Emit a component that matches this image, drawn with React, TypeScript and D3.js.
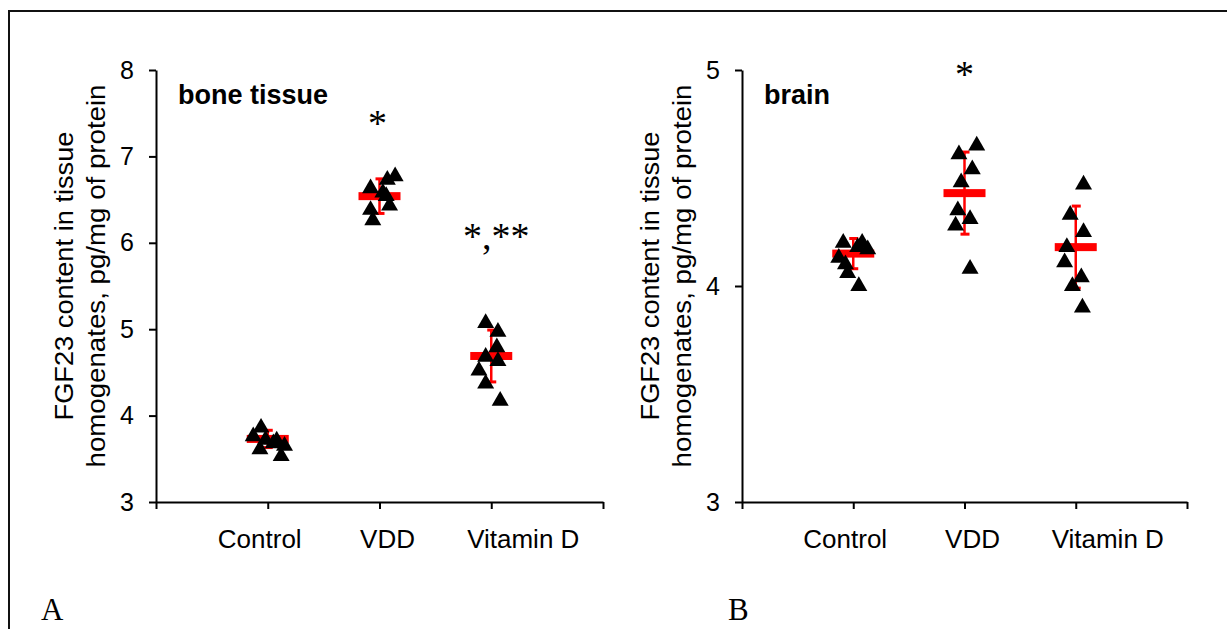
import React, { useRef, useEffect } from "react";
import * as d3 from "d3";

// groups on the x axis
const categories = ["Control", "VDD", "Vitamin D"];

// panel A: bone tissue
const boneTicks = [3, 4, 5, 6, 7, 8];
const boneControl = [3.76, 3.86, 3.61, 3.71, 3.65, 3.53, 3.72, 3.68];
const boneVDD = [6.63, 6.73, 6.77, 6.54, 6.43, 6.38, 6.26, 6.58];
const boneVitD = [5.07, 4.97, 4.79, 4.68, 4.63, 4.52, 4.37, 4.17];
const boneJitter = [
  [-0.13, -0.06, -0.07, 0.08, 0.15, 0.12, -0.02, 0.05],
  [-0.08, 0.07, 0.14, 0.06, 0.09, -0.08, -0.06, 0.03],
  [-0.05, 0.06, 0.05, -0.05, 0.06, -0.11, -0.05, 0.08],
];
const boneMeans = [3.73, 6.54, 4.69];
const boneSD = [0.1, 0.2, 0.3];
const boneStars = ["", "*", "*,**"];
const boneStarLevels = [0, 7.24, 5.93];

// panel B: brain
const brainTicks = [3, 4, 5];
const brainControl = [4.2, 4.2, 4.17, 4.13, 4.1, 4.06, 4.0, 4.18];
const brainVDD = [4.61, 4.65, 4.54, 4.48, 4.35, 4.31, 4.28, 4.08];
const brainVitD = [4.47, 4.33, 4.25, 4.18, 4.11, 4.04, 4.0, 3.9];
const brainJitter = [
  [-0.09, 0.08, 0.13, -0.13, -0.07, -0.05, 0.05, 0.04],
  [-0.05, 0.11, 0.07, -0.03, -0.06, 0.05, -0.08, 0.05],
  [0.07, -0.05, 0.07, -0.08, -0.1, 0.05, -0.03, 0.06],
];
const brainMeans = [4.15, 4.43, 4.18];
const brainSD = [0.07, 0.19, 0.19];
const brainStars = ["", "*", ""];
const brainStarLevels = [0, 4.92, 0];

const W = 1227;
const H = 629;
const SANS = "Arial, 'Liberation Sans', sans-serif";
const SERIF = "'Times New Roman', 'Liberation Serif', serif";
const labelShift = [-8, 8, 32];

const App = () => {
  const svgRef = useRef(null);

  useEffect(() => {
    const svg = d3.select(svgRef.current);
    svg.selectAll("*").remove();

    // frame of the figure
    svg
      .append("path")
      .attr("d", `M9,${H} V11 H${W}`)
      .attr("fill", "none")
      .attr("stroke", "#111")
      .attr("stroke-width", 2);

    const panels = [
      {
        left: 156, right: 603, domain: [3, 8], ticks: boneTicks, title: "bone tissue",
        groups: [boneControl, boneVDD, boneVitD], jitter: boneJitter,
        means: boneMeans, sd: boneSD, stars: boneStars, starLevels: boneStarLevels,
        starShift: [0, -2, 5],
      },
      {
        left: 742, right: 1187, domain: [3, 5], ticks: brainTicks, title: "brain",
        groups: [brainControl, brainVDD, brainVitD], jitter: brainJitter,
        means: brainMeans, sd: brainSD, stars: brainStars, starLevels: brainStarLevels,
        starShift: [0, 0, 0],
      },
    ];

    panels.forEach((p) => {
      const x = d3.scaleLinear().domain([0, 4]).range([p.left, p.right]);
      const y = d3.scaleLinear().domain(p.domain).range([502, 70]);
      const g = svg.append("g");

      // y axis
      const ya = g
        .append("g")
        .attr("transform", `translate(${p.left},0)`)
        .call(
          d3.axisLeft(y).tickValues(p.ticks).tickSize(7).tickSizeOuter(0)
            .tickPadding(15).tickFormat(d3.format("d"))
        );
      // x axis
      const xa = g
        .append("g")
        .attr("transform", `translate(0,502)`)
        .call(
          d3.axisBottom(x).tickValues([0, 1, 2, 3, 4]).tickSize(7)
            .tickSizeOuter(0).tickFormat(() => "")
        );
      [ya, xa].forEach((a) => {
        a.select(".domain").attr("stroke", "#000").attr("stroke-width", 2);
        a.selectAll(".tick line").attr("stroke", "#000").attr("stroke-width", 2);
        a.selectAll("text")
          .attr("font-family", SANS)
          .attr("font-size", 25)
          .attr("fill", "#000");
      });

      // category labels
      g.selectAll(".cat")
        .data(categories)
        .join("text")
        .attr("class", "cat")
        .attr("x", (d, i) => x(i + 1) + labelShift[i])
        .attr("y", 548)
        .attr("text-anchor", "middle")
        .attr("font-family", SANS)
        .attr("font-size", 26)
        .text((d) => d);

      // axis title
      const titleLines = ["FGF23 content in tissue", "homogenates, pg/mg of protein"];
      const lineLen = [289, 383];
      titleLines.forEach((t, i) => {
        g.append("text")
          .attr("transform", `translate(${p.left - 83 + i * 32},276) rotate(-90)`)
          .attr("text-anchor", "middle")
          .attr("font-family", SANS)
          .attr("font-size", 26)
          .attr("textLength", lineLen[i])
          .attr("lengthAdjust", "spacingAndGlyphs")
          .text(t);
      });

      // panel title
      g.append("text")
        .attr("x", p.left + 22)
        .attr("y", 104)
        .attr("font-family", SANS)
        .attr("font-size", 27)
        .attr("font-weight", "bold")
        .text(p.title);

      // mean and SD bars
      p.means.forEach((m, i) => {
        const cx = x(i + 1);
        const top = y(m + p.sd[i]);
        const bot = y(m - p.sd[i]);
        g.append("line")
          .attr("x1", cx).attr("x2", cx).attr("y1", top).attr("y2", bot)
          .attr("stroke", "#ff0000").attr("stroke-width", 2.5);
        [top, bot].forEach((yy) =>
          g.append("line")
            .attr("x1", cx - 4).attr("x2", cx + 5).attr("y1", yy).attr("y2", yy)
            .attr("stroke", "#ff0000").attr("stroke-width", 3)
        );
        g.append("rect")
          .attr("x", cx - 21).attr("y", y(m) - 4)
          .attr("width", 42).attr("height", 8)
          .attr("fill", "#ff0000");
      });

      // individual points
      const tri = d3.symbol().type(d3.symbolTriangle).size(125);
      p.groups.forEach((vals, i) => {
        g.selectAll(`.pt${i}`)
          .data(vals)
          .join("path")
          .attr("class", `pt${i}`)
          .attr("d", tri)
          .attr("transform", (v, k) => `translate(${x(i + 1 + p.jitter[i][k])},${y(v)})`)
          .attr("fill", "#000");
      });

      // significance marks
      p.stars.forEach((s, i) => {
        if (!s) return;
        g.append("text")
          .attr("x", x(i + 1) + p.starShift[i])
          .attr("y", y(p.starLevels[i]))
          .attr("text-anchor", "middle")
          .attr("font-family", SERIF)
          .attr("font-size", 38)
          .text(s);
      });
    });

    // panel letters
    [["A", 41], ["B", 728]].forEach(([t, px]) => {
      svg.append("text")
        .attr("x", px)
        .attr("y", 620)
        .attr("font-family", SERIF)
        .attr("font-size", 31)
        .text(t);
    });
  }, []);

  return (
    <svg
      ref={svgRef}
      width={W}
      height={H}
      style={{ position: "absolute", left: 0, top: 0, background: "#fff" }}
    ></svg>
  );
};

export default App;
